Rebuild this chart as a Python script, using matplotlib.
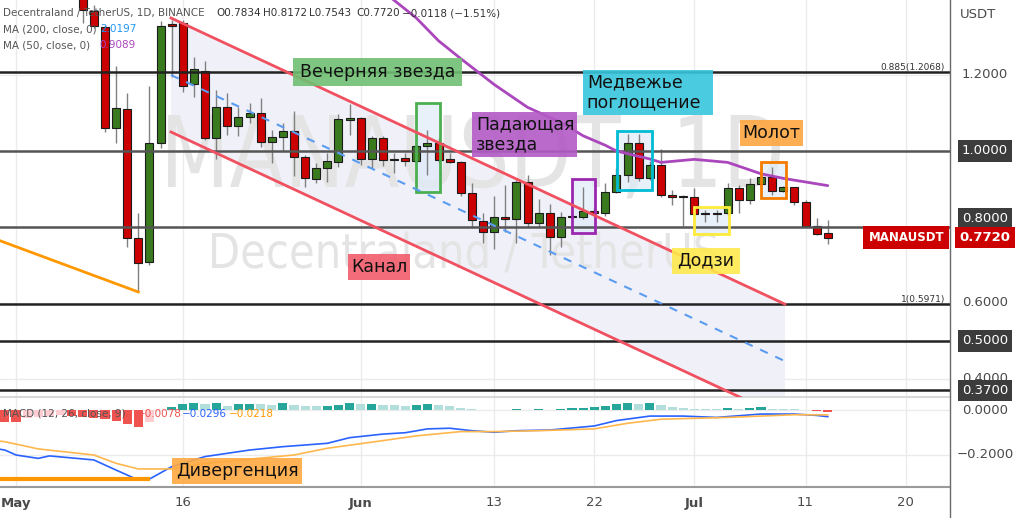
import numpy as np
import pandas as pd
import matplotlib
matplotlib.use("Agg")
import matplotlib.pyplot as plt
from matplotlib.patches import Rectangle, Polygon, PathPatch
from matplotlib.textpath import TextPath
from matplotlib.font_manager import FontProperties
from matplotlib.transforms import Affine2D, blended_transform_factory
from matplotlib.lines import Line2D

plt.rcParams['font.family'] = ['DejaVu Sans']

# ---------------- data ----------------
start_date = pd.Timestamp('2021-05-01')
candle_dates = pd.date_range('2021-05-07', '2021-07-13', freq='D')
opens = [1.45, 1.368, 1.326, 1.060, 1.110, 0.770, 0.709, 1.022, 1.334, 1.336,
         1.176, 1.211, 1.033, 1.117, 1.066, 1.090, 1.099, 1.025, 1.036, 1.053,
         0.985, 0.926, 0.954, 0.970, 1.081, 1.086, 0.979, 1.033, 0.979, 0.981,
         0.974, 1.014, 1.022, 0.978, 0.970, 0.889, 0.817, 0.788, 0.826, 0.820,
         0.918, 0.810, 0.838, 0.774, 0.827, 0.827, 0.843, 0.836, 0.893, 0.937,
         1.022, 0.928, 0.963, 0.884, 0.882, 0.878, 0.836, 0.836, 0.836, 0.902,
         0.871, 0.913, 0.932, 0.896, 0.904, 0.867, 0.803, 0.7834]
highs = [1.50, 1.384, 1.332, 1.224, 1.153, 0.836, 1.171, 1.343, 1.345, 1.345,
         1.247, 1.237, 1.161, 1.153, 1.117, 1.126, 1.139, 1.055, 1.075, 1.106,
         0.990, 0.968, 0.995, 1.097, 1.125, 1.090, 1.040, 1.040, 0.995, 0.995,
         1.020, 1.055, 1.035, 0.995, 0.975, 0.915, 0.838, 0.882, 0.911, 0.924,
         0.937, 0.873, 0.861, 0.840, 0.829, 0.906, 0.850, 0.915, 0.955, 1.046,
         1.046, 0.975, 1.004, 0.897, 0.884, 0.902, 0.845, 0.845, 0.915, 0.910,
         0.928, 0.940, 0.957, 0.908, 0.906, 0.870, 0.823, 0.8172]
lows = [1.337, 1.325, 1.051, 1.020, 0.747, 0.629, 0.700, 1.007, 1.196, 1.156,
        1.143, 1.029, 0.978, 1.042, 1.039, 1.074, 1.010, 0.969, 1.001, 0.934,
        0.904, 0.915, 0.919, 0.957, 1.042, 0.963, 0.954, 0.961, 0.943, 0.960,
        0.966, 0.937, 0.968, 0.968, 0.882, 0.797, 0.759, 0.741, 0.788, 0.757,
        0.800, 0.800, 0.726, 0.748, 0.825, 0.820, 0.830, 0.830, 0.890, 0.919,
        0.922, 0.925, 0.880, 0.858, 0.803, 0.830, 0.814, 0.814, 0.828, 0.836,
        0.861, 0.910, 0.884, 0.893, 0.858, 0.800, 0.780, 0.7543]
closes = [1.371, 1.329, 1.060, 1.112, 0.770, 0.706, 1.022, 1.329, 1.330, 1.171,
          1.215, 1.033, 1.117, 1.066, 1.090, 1.101, 1.025, 1.036, 1.053, 0.985,
          0.928, 0.954, 0.974, 1.083, 1.086, 0.979, 1.033, 0.976, 0.977, 0.974,
          1.013, 1.022, 0.976, 0.970, 0.890, 0.818, 0.786, 0.826, 0.820, 0.919,
          0.810, 0.836, 0.774, 0.827, 0.826, 0.843, 0.836, 0.893, 0.937, 1.022,
          0.928, 0.963, 0.884, 0.878, 0.880, 0.834, 0.835, 0.835, 0.902, 0.871,
          0.913, 0.932, 0.896, 0.904, 0.867, 0.803, 0.782, 0.7720]

# MA(50) read at a set of days (days counted from 1 May)
ma50_days = [33, 36, 38, 40, 43, 46, 49, 51, 53, 54, 57, 58, 61, 64, 67, 69, 73]
ma50_values = [1.42, 1.35, 1.29, 1.243, 1.175, 1.115, 1.075, 1.04,
               1.015, 1.0, 0.979, 0.970, 0.978, 0.970, 0.940, 0.928, 0.9089]

# MACD histogram, one value per day from 30 Apr to 13 Jul
hist_dates = pd.date_range('2021-04-30', '2021-07-13', freq='D')
macd_hist = [-0.052, -0.052, -0.034, -0.030, -0.026, -0.024, -0.026, -0.030, -0.034, -0.040,
             -0.048, -0.060, -0.074, -0.052, 0.002, 0.015, 0.027, 0.030, 0.027, 0.030,
             0.018, 0.027, 0.028, 0.026, 0.022, 0.030, 0.022, 0.018, 0.017, 0.018,
             0.024, 0.031, 0.025, 0.026, 0.022, 0.021, 0.020, 0.024, 0.025, 0.021,
             0.020, 0.010, 0.003, -0.001, -0.002, -0.0008, 0.0025, 0.002, 0.003, 0.0005,
             0.003, 0.0075, 0.0077, 0.015, 0.018, 0.025, 0.0295, 0.028, 0.030, 0.021,
             0.015, 0.010, 0.006, 0.003, 0.0028, 0.007, 0.006, 0.008, 0.012, 0.006,
             0.0058, 0.004, 0.001, -0.006, -0.0078]
macd_days = [-2, -1, 0, 2, 3, 7, 9, 11, 12, 14, 17, 21, 24, 28, 30, 33, 35, 37, 39,
             41, 43, 45, 48, 52, 54, 57, 60, 63, 67, 70, 72, 73]
macd_line = [-0.170, -0.178, -0.200, -0.215, -0.204, -0.222, -0.267, -0.311, -0.307,
             -0.252, -0.207, -0.178, -0.163, -0.148, -0.123, -0.107, -0.101, -0.084,
             -0.081, -0.092, -0.099, -0.092, -0.089, -0.071, -0.047, -0.027, -0.027,
             -0.033, -0.018, -0.018, -0.024, -0.0296]
signal_days = [-2, -1, 2, 7, 9, 11, 14, 17, 25, 28, 33, 36, 40, 43, 47, 52, 55, 58,
               64, 70, 73]
signal_line = [-0.135, -0.141, -0.173, -0.200, -0.237, -0.262, -0.262, -0.237, -0.200,
               -0.170, -0.136, -0.115, -0.096, -0.096, -0.092, -0.084, -0.059, -0.041,
               -0.033, -0.021, -0.0218]

tick_days = [0, 15, 31, 43, 52, 61, 71, 80]
tick_labels = ['May', '16', 'Jun', '13', '22', 'Jul', '11', '20']
level_values = [1.2068, 1.0, 0.8, 0.5971, 0.5, 0.37]

# ---------------- figure ----------------
W, H = 1024, 518
fig = plt.figure(figsize=(W / 100, H / 100), dpi=100)
fig.patch.set_facecolor('white')


def fx(x):
    return x / W


def fy(y):
    return 1 - y / H


ax = fig.add_axes([0, fy(397), fx(950), 397 / H])
ax2 = fig.add_axes([0, fy(487), fx(950), (487 - 398) / H], sharex=ax)
PX_DAY = 11.12
ax.set_xlim(-16 / PX_DAY, (950 - 16) / PX_DAY)
ax.set_ylim(1 - 246 / 380, 1 + 151 / 380)
ax2.set_ylim(-77 / 225, 12 / 225)
for a in (ax, ax2):
    a.set_xticks([])
    a.set_yticks([])
    for s in a.spines.values():
        s.set_visible(False)
    a.set_facecolor('white')
ax.spines['bottom'].set_visible(True)
ax.spines['bottom'].set_color('#d8d8d8')
ax.spines['bottom'].set_linewidth(1.5)
ax2.spines['bottom'].set_visible(True)
ax2.spines['bottom'].set_color('#9a9a9a')
ax2.spines['bottom'].set_linewidth(1.5)

grid_c = '#ebebeb'
for d in tick_days:
    ax.axvline(d, color=grid_c, lw=1, zorder=0)
    ax2.axvline(d, color=grid_c, lw=1, zorder=0)
for p in [1.2, 1.0, 0.8, 0.6, 0.4]:
    ax.axhline(p, color=grid_c, lw=1, zorder=0)
for m in [0.0, -0.2]:
    ax2.axhline(m, color=grid_c, lw=1, zorder=0)

# ---- channel fill ----
ch_d0, ch_d1 = 13.94, 69.15
up0, up1 = 1.35, 0.597
lo0, lo1 = 1.05, 0.297
ax.add_patch(Polygon([(ch_d0, up0), (ch_d1, up1), (ch_d1, lo1), (ch_d0, lo0)],
                     closed=True, fc='#f0f0f9', ec='none', zorder=0.5))


# ---- watermarks ----
def watermark(axis, text, left_px, base_px, width_px, cap_px, color):
    fp = FontProperties(family='DejaVu Sans')
    tp = TextPath((0, 0), text, size=1, prop=fp)
    cap = TextPath((0, 0), 'H', size=1, prop=fp).get_extents().height
    ext = tp.get_extents()
    sx = width_px / ext.width
    sy = cap_px / cap
    tr = Affine2D().translate(-ext.x0, 0).scale(sx, sy).translate(left_px, H - base_px)
    patch = PathPatch(tp, transform=tr, fc=color, ec='none', zorder=0.8)
    axis.add_patch(patch)


watermark(ax, 'MANAUSDT, 1D', 168, 187, 612, 72, '#e4e4e4')
watermark(ax, 'Decentraland / TetherUS', 212, 268, 505, 35, '#e4e4e4')

# ---- horizontal levels ----
for p in level_values:
    col = '#555555' if p in (1.0, 0.8) else '#222222'
    ax.axhline(p, color=col, lw=1.8, zorder=5)
ax.text(fx(945), 1.2068, '0.885(1.2068)', transform=blended_transform_factory(fig.transFigure, ax.transData),
        ha='right', va='bottom', fontsize=6.5, color='#333333', zorder=6)
ax.text(fx(945), 0.5971, '1(0.5971)', transform=blended_transform_factory(fig.transFigure, ax.transData),
        ha='right', va='bottom', fontsize=6.5, color='#333333', zorder=6)

# ---- pattern boxes ----
boxes = [((35.95, 0.892), 2.15, 0.234, '#4caf50'),
         ((50.0, 0.784), 2.07, 0.142, '#9c27b0'),
         ((54.02, 0.897), 3.15, 0.156, '#00bcd4'),
         ((60.97, 0.782), 3.15, 0.071, '#ffeb3b'),
         ((66.97, 0.876), 2.23, 0.095, '#f57c00')]
for (xy, w, h, col) in boxes:
    ax.add_patch(Rectangle(xy, w, h, fc='#dfeaf8', ec='none', alpha=0.7, zorder=2))
    ax.add_patch(Rectangle(xy, w, h, fc='none', ec=col, lw=2, zorder=7))

# ---- candles ----
xs = (candle_dates - start_date).days
green, red = '#3a7a1f', '#cc0000'
bw = 0.72
for x, o, h, l, c in zip(xs, opens, highs, lows, closes):
    ax.vlines(x, l, h, color='#808080', lw=1, zorder=3)
    col = green if c >= o else red
    ax.add_patch(Rectangle((x - bw / 2, min(o, c)), bw, max(abs(c - o), 0.002),
                           fc=col, ec='#1c1c1c', lw=0.8, zorder=4))

# ---- MA 50 ----
ax.plot(ma50_days, ma50_values, color='#ab47bc', lw=2, zorder=6, solid_capstyle='round')

# ---- channel lines ----
ax.plot([ch_d0, ch_d1], [up0, up1], color='#f0505f', lw=2, zorder=8)
ax.plot([ch_d0, ch_d1], [lo0, lo1], color='#f0505f', lw=2, zorder=8)
ax.plot([ch_d0, ch_d1], [(up0 + lo0) / 2, (up1 + lo1) / 2], color='#5a9cf0', lw=1.5,
        dashes=(4, 4), zorder=8)

# ---- orange trend lines (divergence) ----
ax.plot([-2, 11], [0.77, 0.629], color='#ff9800', lw=2, zorder=8)
ax2.plot([-2, 11.9], [-0.307, -0.307], color='#ff9800', lw=3, zorder=6)


# ---- text labels with coloured boxes ----
def label(axis, text, cx, cy, w, h, col, fs=12.5, left=False):
    axis.add_patch(Rectangle((cx - w / 2, cy - h / 2), w, h, fc=col, ec='none', alpha=0.9, zorder=9))
    if left:
        axis.text(cx - w / 2 + 0.35, cy, text, ha='left', va='center', fontsize=fs,
                  color='#111111', zorder=10, linespacing=1.15)
    else:
        axis.text(cx, cy, text, ha='center', va='center', fontsize=fs, color='#111111', zorder=10)


label(ax, 'Вечерняя звезда', 32.5, 1.208, 15.2, 0.0737, '#6fbf72')
label(ax, 'Падающая\nзвезда', 45.73, 1.043, 9.44, 0.118, '#b35ac5', left=True)
label(ax, 'Медвежье\nпоглощение', 56.83, 1.154, 11.69, 0.118, '#37c6dc', left=True)
label(ax, 'Молот', 67.94, 1.047, 5.67, 0.068, '#ffa640')
label(ax, 'Додзи', 62.05, 0.711, 6.12, 0.068, '#ffe94d')
label(ax, 'Канал', 32.64, 0.695, 5.58, 0.068, '#f25c6c')
label(ax2, 'Дивергенция', 19.87, -0.271, 11.69, 0.1156, '#ffa940')

# ---- MACD ----
hx = (hist_dates - start_date).days
hcols = []
prev = None
for v in macd_hist:
    if v >= 0:
        c = '#26a69a' if (prev is None or v >= prev) else '#b2dfdb'
    else:
        c = '#ef5350' if (prev is None or v <= prev) else '#ffcdd2'
    hcols.append(c)
    prev = v
ax2.bar(hx, macd_hist, width=0.82, color=hcols, zorder=3)
ax2.plot(macd_days, macd_line, color='#2962ff', lw=1.2, zorder=4)
ax2.plot(signal_days, signal_line, color='#ffb74d', lw=1.2, zorder=4)

# ---- right price scale ----
bt = blended_transform_factory(fig.transFigure, ax.transData)
bt2 = blended_transform_factory(fig.transFigure, ax2.transData)
for p, t in [(1.2, '1.2000'), (0.6, '0.6000'), (0.4, '0.4000')]:
    ax.text(fx(985), p, t, transform=bt, ha='center', va='center', fontsize=9.5,
            color='#4a4a4a', clip_on=False, zorder=20)
box_kw = dict(boxstyle='square,pad=0.32', fc='#3c3c3c', ec='none')
for p, t, va in [(1.0, '1.0000', 'center'), (0.8, '0.8000', 'bottom'),
                 (0.5, '0.5000', 'center'), (0.37, '0.3700', 'center')]:
    ax.text(fx(985), p + (0.004 if va == 'bottom' else 0), t, transform=bt, ha='center', va=va,
            fontsize=9.5, color='white', bbox=box_kw, clip_on=False, zorder=21)
ax.text(fx(985), closes[-1], '0.7720', transform=bt, ha='center', va='center', fontsize=9.5,
        color='white', fontweight='bold',
        bbox=dict(boxstyle='square,pad=0.32', fc='#cc0000', ec='none'), clip_on=False, zorder=22)
ax.text(fx(944), closes[-1], 'MANAUSDT', transform=bt, ha='right', va='center', fontsize=8.5,
        color='white', fontweight='bold',
        bbox=dict(boxstyle='square,pad=0.45', fc='#cc0000', ec='none'), clip_on=False, zorder=22)
fig.text(fx(960), fy(15), 'USDT', ha='left', va='center', fontsize=9.5, color='#4a4a4a')
for m, t in [(0.0, '0.0000'), (-0.2, '\u22120.2000')]:
    ax2.text(fx(985), m, t, transform=bt2, ha='center', va='center', fontsize=9.5,
             color='#4a4a4a', clip_on=False)

# ---- time scale ----
bx = blended_transform_factory(ax2.transData, fig.transFigure)
for d, t in zip(tick_days, tick_labels):
    ax2.text(d, fy(503), t, transform=bx, ha='center', va='center', fontsize=9.5,
             color='#4a4a4a', fontweight='bold' if t.isalpha() else 'normal', clip_on=False)

# separators
fig.add_artist(Line2D([fx(950), fx(950)], [0, 1], transform=fig.transFigure, color='#6a6a6a', lw=1))

# ---- legends ----
lg = '#555555'
fig.text(fx(3), fy(13), 'Decentraland / TetherUS, 1D, BINANCE', fontsize=7.5, color=lg, va='center')
for xpx, t in [(216, 'O0.7834'), (263, 'H0.8172'), (309, 'L0.7543'), (356, 'C0.7720'),
               (402, '\u22120.0118 (\u22121.51%)')]:
    fig.text(fx(xpx), fy(13), t, fontsize=7.5, color='#333333', va='center')
fig.text(fx(3), fy(29), 'MA (200, close, 0)', fontsize=7.5, color=lg, va='center')
fig.text(fx(100), fy(29), '2.0197', fontsize=7.5, color='#2196f3', va='center')
fig.text(fx(3), fy(45), 'MA (50, close, 0)', fontsize=7.5, color=lg, va='center')
fig.text(fx(99), fy(45), '0.9089', fontsize=7.5, color='#ab47bc', va='center')
fig.text(fx(3), fy(414), 'MACD (12, 26, close, 9)', fontsize=7.5, color=lg, va='center', zorder=10)
fig.text(fx(137), fy(414), '\u22120.0078', fontsize=7.5, color='#ef5350', va='center', zorder=10)
fig.text(fx(182), fy(414), '\u22120.0296', fontsize=7.5, color='#2962ff', va='center', zorder=10)
fig.text(fx(229), fy(414), '\u22120.0218', fontsize=7.5, color='#ff9800', va='center', zorder=10)

fig.savefig('out.png', dpi=100)
